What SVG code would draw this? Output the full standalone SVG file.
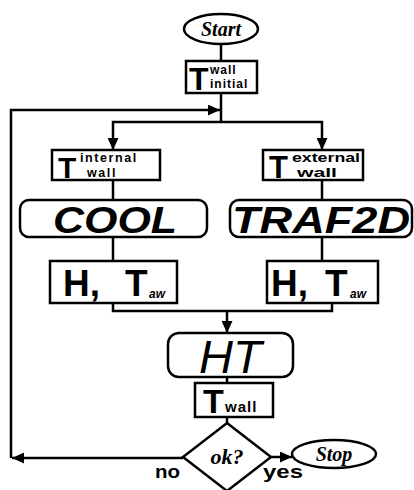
<svg xmlns="http://www.w3.org/2000/svg" width="414" height="490" viewBox="0 0 414 490">
<style>
.box{fill:#fff;stroke:#000;stroke-width:2.5}
.ln{fill:none;stroke:#000;stroke-width:2.5}
.sans{font-family:"Liberation Sans",Arial,sans-serif;fill:#000}
.b{font-weight:bold}
.it{font-style:italic}
.script{font-family:"Liberation Serif","Times New Roman",serif;font-style:italic;font-weight:bold;fill:#000}
</style>
<defs>
<marker id="arr" markerUnits="userSpaceOnUse" markerWidth="13" markerHeight="11" refX="12" refY="5.5" orient="auto">
<path d="M0,0 L12,5.5 L0,11 Z" fill="#000"/>
</marker>
</defs>
<rect width="414" height="490" fill="#fff"/>
<g id="connectors">
<path class="ln" d="M221,44 V61"/>
<path class="ln" d="M221,93 V122"/>
<path class="ln" d="M221,122 H113 V150" marker-end="url(#arr)"/>
<path class="ln" d="M221,122 H322 V150" marker-end="url(#arr)"/>
<path class="ln" d="M183,458 H12" marker-end="url(#arr)"/>
<path class="ln" d="M11,458 V110 H220" marker-end="url(#arr)"/>
<path class="ln" d="M113,180 V200"/>
<path class="ln" d="M322,180 V200"/>
<path class="ln" d="M113,237 V261"/>
<path class="ln" d="M322,237 V261"/>
<path class="ln" d="M113,303 V311 H332 V303"/>
<path class="ln" d="M227,311 V333" marker-end="url(#arr)"/>
<path class="ln" d="M227,377 V383"/>
<path class="ln" d="M227,417 V423"/>
<path class="ln" d="M271,457 H292" marker-end="url(#arr)"/>
<text class="sans b" x="155" y="478" font-size="18" textLength="25" lengthAdjust="spacingAndGlyphs">no</text>
<text class="sans b" x="263" y="478" font-size="18" textLength="40" lengthAdjust="spacingAndGlyphs">yes</text>
</g>
<g id="start">
<ellipse class="box" cx="221" cy="29" rx="37" ry="15"/>
<text class="script" x="221" y="36" font-size="20" text-anchor="middle">Start</text>
</g>
<g id="t-wall-initial">
<rect class="box" x="186" y="61" width="71" height="32"/>
<text class="sans b" x="189" y="90" font-size="32">T</text>
<text class="sans b" x="210" y="74" font-size="12" letter-spacing="1">wall</text>
<text class="sans b" x="210" y="88" font-size="12" letter-spacing="1">initial</text>
</g>
<g id="t-internal-wall">
<rect class="box" x="52" y="150" width="108" height="30"/>
<text class="sans b" x="58" y="178" font-size="30">T</text>
<text class="sans b" x="80" y="162" font-size="12.5" letter-spacing="1.6">internal</text>
<text class="sans b" x="87" y="177" font-size="12.5" letter-spacing="1.6">wall</text>
</g>
<g id="t-external-wall">
<rect class="box" x="263" y="150" width="100" height="30"/>
<text class="sans b" x="269" y="178" font-size="31">T</text>
<text class="sans b" x="292" y="162" font-size="12.5" textLength="68" lengthAdjust="spacingAndGlyphs">external</text>
<text class="sans b" x="297" y="177" font-size="12.5" textLength="40" lengthAdjust="spacingAndGlyphs">wall</text>
</g>
<g id="cool">
<rect class="box" x="20" y="200" width="187" height="37" rx="9"/>
<text class="sans b it" x="53" y="233" font-size="37" textLength="124" lengthAdjust="spacingAndGlyphs">COOL</text>
</g>
<g id="traf2d">
<rect class="box" x="230" y="200" width="182" height="37" rx="9"/>
<text class="sans b it" x="232" y="233" font-size="37" textLength="178" lengthAdjust="spacingAndGlyphs">TRAF2D</text>
</g>
<g id="h-taw-left">
<rect class="box" x="50" y="261" width="127" height="42"/>
<text class="sans b" x="63" y="296" font-size="37">H,</text>
<text class="sans b" x="125" y="296" font-size="37">T</text>
<text class="sans b it" x="149" y="298" font-size="12">aw</text>
</g>
<g id="h-taw-right">
<rect class="box" x="267" y="261" width="111" height="42"/>
<text class="sans b" x="271" y="296" font-size="37">H,</text>
<text class="sans b" x="325" y="296" font-size="37">T</text>
<text class="sans b it" x="350" y="298" font-size="12">aw</text>
</g>
<g id="ht">
<rect class="box" x="168" y="333" width="125" height="44" rx="11"/>
<text class="sans it" x="199" y="373" font-size="47">HT</text>
</g>
<g id="t-wall">
<rect class="box" x="195" y="383" width="78" height="34"/>
<text class="sans b" x="203" y="413" font-size="34">T</text>
<text class="sans b" x="225" y="412" font-size="15" letter-spacing="1">wall</text>
</g>
<g id="ok">
<polygon class="box" points="227,423 271,457 227,491 183,457"/>
<text class="script" x="227" y="464" font-size="22" text-anchor="middle">ok?</text>
</g>
<g id="stop">
<ellipse class="box" cx="334" cy="454" rx="42" ry="14"/>
<text class="script" x="334" y="461" font-size="20" text-anchor="middle">Stop</text>
</g>
</svg>
